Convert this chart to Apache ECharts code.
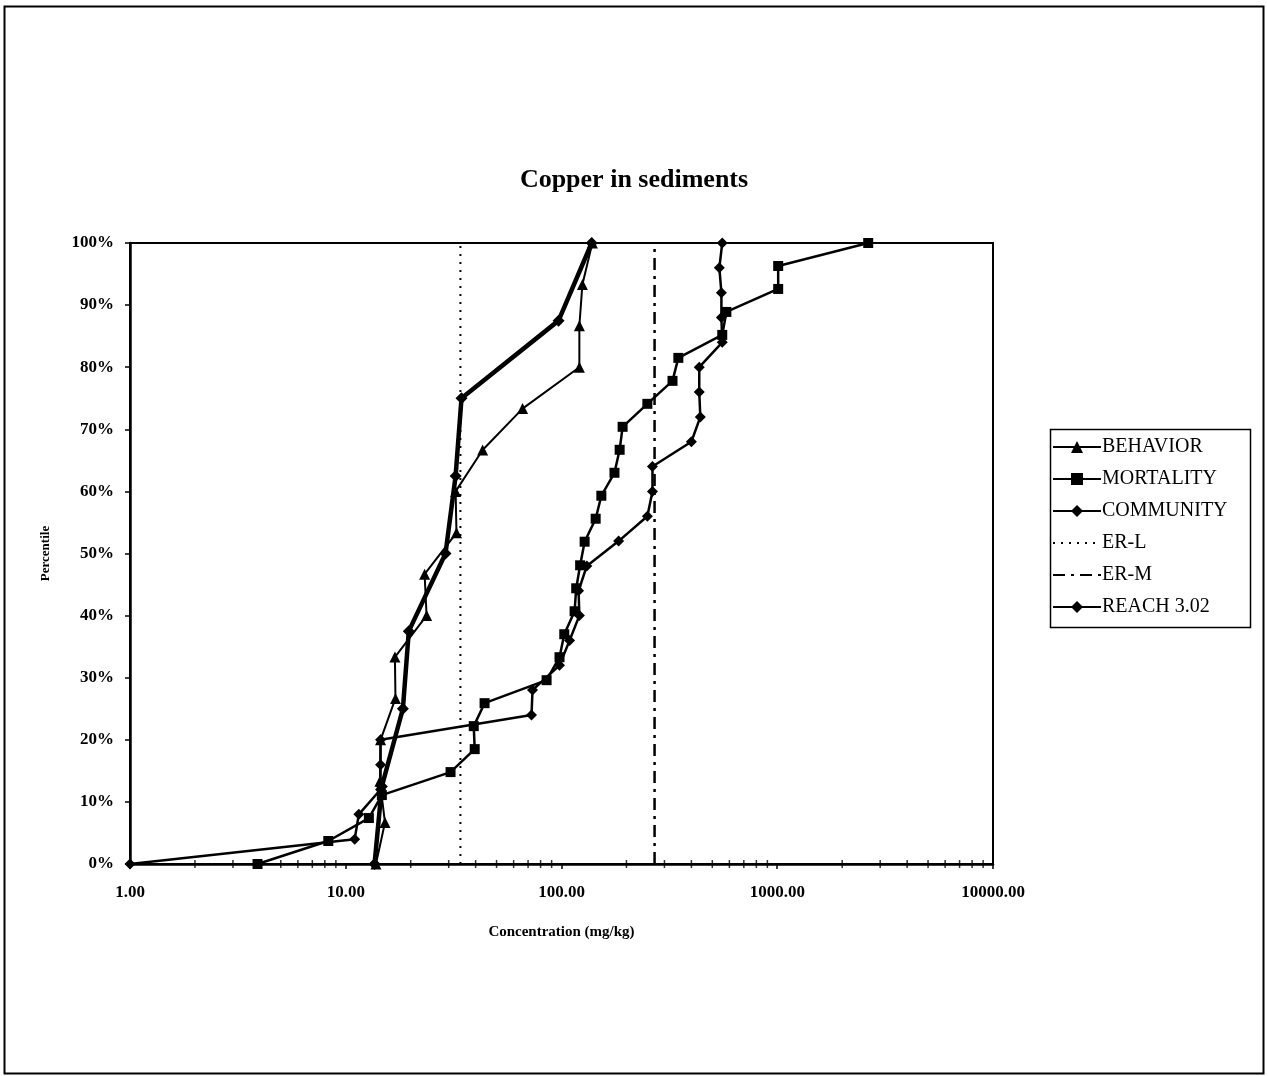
<!DOCTYPE html>
<html>
<head>
<meta charset="utf-8">
<script src="https://cdn.jsdelivr.net/npm/echarts@6/dist/echarts.min.js"></script>
<style>
html,body{margin:0;padding:0;background:#fff;}
#chart{width:1268px;height:1076px;}
</style>
</head>
<body>
<div id="chart"></div>
<script>
// ---- Data ----
const behaviorPct  = [0, 6.67, 13.33, 20, 26.67, 33.33, 40, 46.67, 53.33, 60, 66.67, 73.33, 80, 86.67, 93.33, 100];
const behaviorConc = [13.8, 15.2, 14.4, 14.5, 17.0, 16.9, 23.7, 23.2, 32.6, 32.3, 43.1, 66.0, 121, 121, 125, 139];

const mortalityPct  = [0, 3.7, 7.4, 11.1, 14.8, 18.5, 22.2, 25.9, 29.6, 33.3, 37.0, 40.7, 44.4, 48.1, 51.9, 55.6, 59.3, 63.0, 66.7, 70.4, 74.1, 77.8, 81.5, 85.2, 88.9, 92.6, 96.3, 100];
const mortalityConc = [3.9, 8.3, 12.8, 14.7, 30.6, 39.6, 39.2, 44.0, 85.3, 97.9, 103, 115, 117, 122, 128, 144, 153, 176, 186, 192, 250, 327, 348, 556, 581, 1010, 1010, 2640];

const communityPct  = [0, 4, 8, 12, 16, 20, 24, 28, 32, 36, 40, 44, 48, 52, 56, 60, 64, 68, 72, 76, 80, 84, 88, 92, 96, 100];
const communityConc = [1.0, 11.0, 11.5, 14.5, 14.5, 14.5, 72.6, 73.4, 97.9, 109, 121, 120, 131, 184, 250, 264, 264, 400, 440, 435, 435, 556, 551, 551, 539, 556];

const reachPct  = [0, 12.5, 25, 37.5, 50, 62.5, 75, 87.5, 100];
const reachConc = [13.6, 14.7, 18.4, 19.6, 29.0, 32.3, 34.4, 96.9, 138];

const erL = 34;    // ER-L guideline
const erM = 270;   // ER-M guideline
const guidePct = [0, 100];

const xMinorTicks = [2,3,4,5,6,7,8,9,20,30,40,50,60,70,80,90,200,300,400,500,600,700,800,900,2000,3000,4000,5000,6000,7000,8000,9000];

const seriesNames = ['BEHAVIOR', 'MORTALITY', 'COMMUNITY', 'ER-L', 'ER-M', 'REACH 3.02'];

const pair = (xs, ys) => xs.map((x, i) => [x, ys[i]]);

const FONT = '"Liberation Serif", "Times New Roman", serif';

const chart = echarts.init(document.getElementById('chart'), null, {renderer: 'canvas'});

const noSymbol = new Set(['ER-L', 'ER-M']);

const option = {
  backgroundColor: '#fff',
  animation: false,
  title: {
    text: 'Copper in sediments',
    left: 'center',
    top: 162,
    textStyle: {fontFamily: FONT, fontWeight: 'bold', fontSize: 26, color: '#000'}
  },
  grid: {
    left: 130, top: 243, right: 275, bottom: 212,
    show: true, borderColor: '#000', borderWidth: 2, backgroundColor: 'transparent'
  },
  legend: {
    orient: 'vertical',
    left: 1052,
    top: 437,
    itemWidth: 48,
    itemHeight: 15,
    itemGap: 12,
    padding: 0,
    data: seriesNames.map(n => noSymbol.has(n)
      ? {name: n, itemStyle: {opacity: 0}}
      : {name: n}),
    textStyle: {fontFamily: FONT, fontSize: 20, color: '#000', lineHeight: 20, padding: [0, 0, 0, -4]},
    selectedMode: false
  },
  xAxis: {
    type: 'log',
    logBase: 10,
    min: 1,
    max: 10000,
    name: 'Concentration (mg/kg)',
    nameLocation: 'middle',
    nameGap: 61,
    nameTextStyle: {fontFamily: FONT, fontWeight: 'bold', fontSize: 15, color: '#000'},
    axisLine: {lineStyle: {color: '#000', width: 2.5}},
    axisTick: {show: true, length: 5, lineStyle: {color: '#000', width: 1.5}},
    axisLabel: {
      fontFamily: FONT, fontWeight: 'bold', fontSize: 17, color: '#000', margin: 20,
      formatter: v => Number(v).toFixed(2)
    },
    splitLine: {show: false},
    minorTick: {show: false}
  },
  yAxis: {
    type: 'value',
    min: 0,
    max: 100,
    interval: 10,
    name: 'Percentile',
    nameLocation: 'middle',
    nameGap: 78,
    nameTextStyle: {fontFamily: FONT, fontWeight: 'bold', fontSize: 13, color: '#000'},
    axisLine: {show: true, lineStyle: {color: '#000', width: 2.5}},
    axisTick: {show: true, length: 5, lineStyle: {color: '#000', width: 1.5}},
    axisLabel: {
      fontFamily: FONT, fontWeight: 'bold', fontSize: 17, color: '#000', margin: 16,
      formatter: '{value}%'
    },
    splitLine: {show: false}
  },
  series: [
    {
      name: 'BEHAVIOR', type: 'line', data: pair(behaviorConc, behaviorPct),
      symbol: 'triangle', symbolSize: 11, clip: false,
      lineStyle: {color: '#000', width: 2}, itemStyle: {color: '#000'}, z: 3
    },
    {
      name: 'MORTALITY', type: 'line', data: pair(mortalityConc, mortalityPct),
      symbol: 'rect', symbolSize: 10, clip: false,
      lineStyle: {color: '#000', width: 2.5}, itemStyle: {color: '#000'}, z: 3
    },
    {
      name: 'COMMUNITY', type: 'line', data: pair(communityConc, communityPct),
      symbol: 'diamond', symbolSize: 11, clip: false,
      lineStyle: {color: '#000', width: 2.5}, itemStyle: {color: '#000'}, z: 3
    },
    {
      name: 'ER-L', type: 'line', data: pair([erL, erL], guidePct),
      symbol: 'none', clip: false,
      lineStyle: {color: '#000', width: 2, type: [2, 6]}, itemStyle: {color: '#000'}, z: 2
    },
    {
      name: 'ER-M', type: 'line', data: pair([erM, erM], guidePct),
      symbol: 'none', clip: false,
      lineStyle: {color: '#000', width: 2.5, type: [12, 6, 3, 6]}, itemStyle: {color: '#000'}, z: 2
    },
    {
      name: 'REACH 3.02', type: 'line', data: pair(reachConc, reachPct),
      symbol: 'diamond', symbolSize: 12, clip: false,
      lineStyle: {color: '#000', width: 4.5}, itemStyle: {color: '#000'}, z: 4
    },
    {
      name: 'minorTicks', type: 'scatter', data: xMinorTicks.map(v => [v, 0]),
      symbol: 'rect', symbolSize: [1.5, 8], clip: false, silent: true,
      itemStyle: {color: '#000'}, z: 5
    }
  ],
  graphic: [
    {
      type: 'rect', left: 2, top: 4, z: 100,
      shape: {width: 1259, height: 1067},
      style: {fill: null, stroke: '#000', lineWidth: 2}
    },
    {
      type: 'rect', left: 1048, top: 427, z: 100,
      shape: {width: 200, height: 198},
      style: {fill: null, stroke: '#000', lineWidth: 1.5}
    }
  ]
};

chart.setOption(option);
</script>
</body>
</html>
